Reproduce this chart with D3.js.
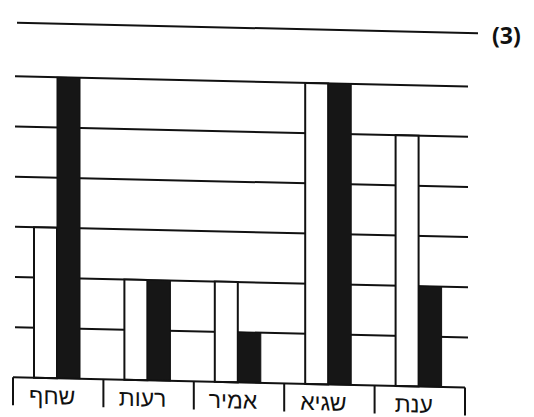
<!DOCTYPE html>
<html>
<head>
<meta charset="utf-8">
<script src="https://cdn.jsdelivr.net/npm/d3@7"></script>
<style>
  body { margin: 0; background: #fff; }
  svg { display: block; }
</style>
</head>
<body>
<div id="chart"></div>
<script>
const width = 534;
const height = 417;

// categories left to right, as printed
const names = ['שחף', 'רעות', 'אמיר', 'שגיא', 'ענת'];
const whiteValues = [3, 2, 2, 6, 5];
const blackValues = [6, 2, 1, 6, 2];
const gridValues = [1, 2, 3, 4, 5, 6];
const topRuleValue = 7.07;
const optionLabel = '(3)';

const x = d3.scaleBand()
    .domain(names)
    .range([13, 465])
    .paddingInner(0)
    .paddingOuter(0);

const y = d3.scaleLinear()
    .domain([0, 6])
    .range([377, 76]);

const barW = 23;
const barOffset = 21;

const svg = d3.select('#chart')
    .append('svg')
    .attr('width', width)
    .attr('height', height);

// the photo is a bit slanted
const g = svg.append('g')
    .attr('transform', 'skewY(1.3)');

// grid lines
g.append('g')
    .selectAll('line')
    .data(gridValues)
    .join('line')
    .attr('x1', 15)
    .attr('x2', 468)
    .attr('y1', d => y(d))
    .attr('y2', d => y(d))
    .attr('stroke', '#111')
    .attr('stroke-width', 2);

g.append('line')
    .attr('x1', 17)
    .attr('x2', 478)
    .attr('y1', y(topRuleValue))
    .attr('y2', y(topRuleValue))
    .attr('stroke', '#111')
    .attr('stroke-width', 2);

// white bars
g.append('g')
    .selectAll('rect')
    .data(names)
    .join('rect')
    .attr('x', d => x(d) + barOffset)
    .attr('y', (d, i) => y(whiteValues[i]))
    .attr('width', barW)
    .attr('height', (d, i) => y(0) - y(whiteValues[i]))
    .attr('fill', '#fff')
    .attr('stroke', '#111')
    .attr('stroke-width', 2);

// black bars
g.append('g')
    .selectAll('rect')
    .data(names)
    .join('rect')
    .attr('x', d => x(d) + barOffset + barW)
    .attr('y', (d, i) => y(blackValues[i]))
    .attr('width', barW)
    .attr('height', (d, i) => y(0) - y(blackValues[i]))
    .attr('fill', '#161616')
    .attr('stroke', '#111')
    .attr('stroke-width', 1);

// name boxes under the bars
const axis = g.append('g');

axis.append('line')
    .attr('x1', x.range()[0])
    .attr('x2', x.range()[1])
    .attr('y1', y(0))
    .attr('y2', y(0))
    .attr('stroke', '#111')
    .attr('stroke-width', 2);

const dividers = names.map(d => x(d)).concat([x.range()[1]]);

axis.selectAll('line.div')
    .data(dividers)
    .join('line')
    .attr('class', 'div')
    .attr('x1', d => d)
    .attr('x2', d => d)
    .attr('y1', y(0))
    .attr('y2', y(0) + 28)
    .attr('stroke', '#111')
    .attr('stroke-width', 2);

axis.selectAll('text')
    .data(names)
    .join('text')
    .attr('x', d => x(d) + x.bandwidth() / 2 - 6)
    .attr('y', y(0) + 26)
    .attr('text-anchor', 'middle')
    .attr('direction', 'rtl')
    .style('font-family', '"Liberation Sans", "DejaVu Sans", sans-serif')
    .style('font-size', '23px')
    .attr('fill', '#111')
    .text(d => d);

svg.append('text')
    .attr('x', 492)
    .attr('y', 44)
    .style('font-family', '"Open Sans", "DejaVu Sans", sans-serif')
    .style('font-size', '23px')
    .style('font-weight', 'bold')
    .attr('fill', '#111')
    .text(optionLabel);
</script>
</body>
</html>
